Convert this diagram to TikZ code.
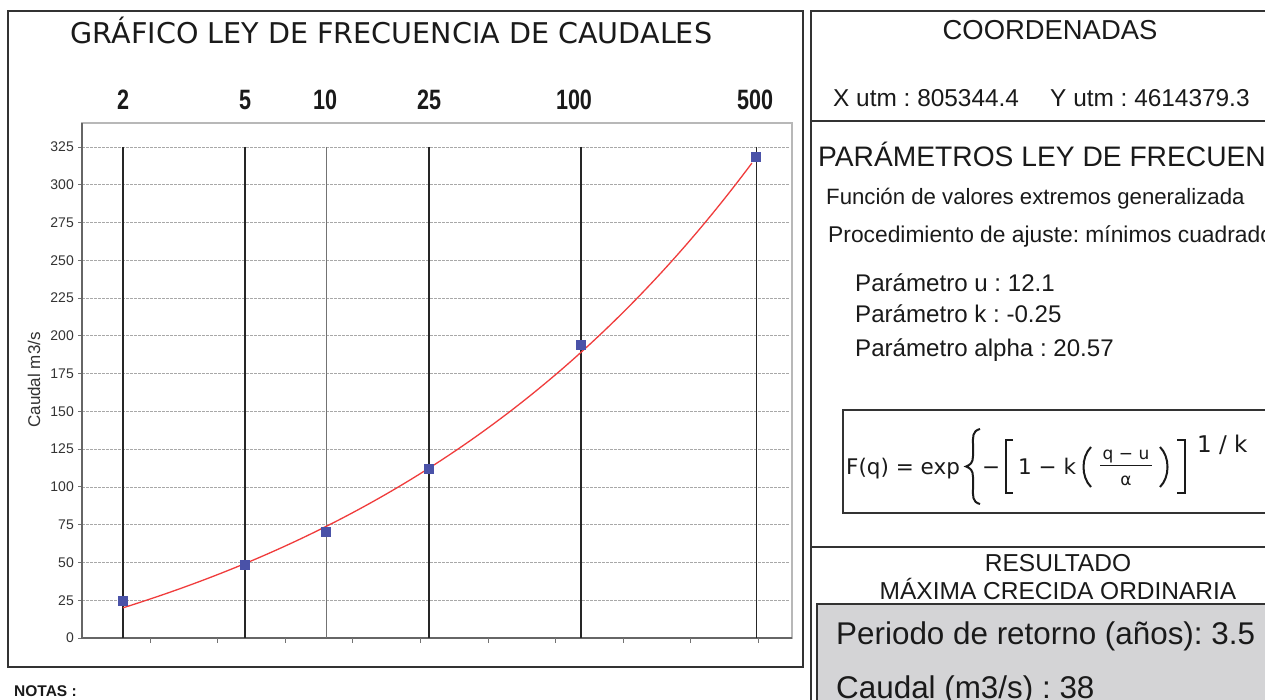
\documentclass[tikz,border=0pt]{standalone}
\usepackage{fontspec}
\usepackage{graphicx}
\setmainfont{Liberation Sans}
\newfontfamily\dvs{DejaVu Sans}
\definecolor{frm}{HTML}{333333}
\definecolor{plotfrm}{HTML}{B8B8B8}
\definecolor{gridc}{HTML}{A8A8A8}
\definecolor{ptblue}{HTML}{4A52A8}
\definecolor{curvered}{HTML}{F03C3C}
\definecolor{resbg}{HTML}{D4D4D6}
\definecolor{txt}{HTML}{1A1A1A}
\definecolor{ticktxt}{HTML}{333333}
\newcommand\fsz[1]{\fontsize{#1}{#1}\selectfont}
\newcommand\narrowlab[1]{\scalebox{0.77}[1]{#1}}
\frenchspacing
\begin{document}
\frenchspacing
\begin{tikzpicture}[x=1pt,y=-1pt,
  frame/.style={draw=frm, line width=1.6pt},
  plotframe/.style={draw=plotfrm, line width=1.2pt},
  gridline/.style={draw=gridc, line width=0.8pt, dash pattern=on 2.5pt off 1.5pt},
  tline/.style={draw=black!85, line width=1.4pt},
  tlinelight/.style={draw=black!55, line width=1pt},
  axtick/.style={draw=black!55, line width=0.9pt},
  curve/.style={draw=curvered, line width=1.3pt},
  datapt/.style={fill=ptblue, draw=none, minimum size=10pt, inner sep=0pt, rectangle},
  ylab/.style={anchor=east, inner sep=0pt, text=ticktxt, font=\fsz{14}},
  toplab/.style={anchor=base, inner sep=0pt, text=txt, font=\bfseries\fsz{28}},
  txtw/.style={anchor=base west, inner sep=0pt, text=txt},
  txtc/.style={anchor=base, inner sep=0pt, text=txt},
  fml/.style={inner sep=0pt, text=txt, font=\dvs\fsz{21.5}},
  delim/.style={draw=txt, line width=2pt, line cap=butt, line join=miter},
]
\useasboundingbox (0,0) rectangle (1265,700);
\clip (0,0) rectangle (1265,700);
\fill[white] (0,0) rectangle (1265,700);

% ---------- left chart frame ----------
\draw[frame] (8,11) rectangle (803,667);
\node[txtc, font=\dvs\fsz{28.6}] (title) at (391.5,43.5) {GRÁFICO LEY DE FRECUENCIA DE CAUDALES};

% plot area
\draw[plotframe] (82,123) rectangle (792,638);
\draw[draw=plotfrm, line width=2.5pt] (792,123) -- (792,639);
\foreach \v in {1,...,13}
  \draw[gridline] (82,{638-\v*37.77}) -- (790,{638-\v*37.77});
\foreach \v [evaluate=\v as \lab using int(\v*25)] in {0,...,13} {
  \draw[axtick] (78,{638-\v*37.77}) -- (82,{638-\v*37.77});
  \node[ylab] (yl\v) at (74,{638-\v*37.77}) {\lab};
}
\draw[draw=black!60, line width=1.2pt] (82,123) -- (82,638) -- (792,638);
\foreach \k in {0,...,9}
  \draw[axtick] ({150+67.6*\k},638) -- ++(0,5);

\node[rotate=90, inner sep=0pt, text=ticktxt, font=\fsz{17}] (yaxlab) at (34,380) {Caudal m3/s};

% return period lines
\draw[tline] (123,147) -- (123,638);
\draw[tline] (245,147) -- (245,638);
\draw[tlinelight] (326,147) -- (326,638);
\draw[tline] (429,147) -- (429,638);
\draw[tline] (581,147) -- (581,638);
\draw[tline] (756.5,147) -- (756.5,638);

\node[toplab] (t2) at (123,110) {\narrowlab{2}};
\node[toplab] (t5) at (245,110) {\narrowlab{5}};
\node[toplab] (t10) at (325,110) {\narrowlab{10}};
\node[toplab] (t25) at (429,110) {\narrowlab{25}};
\node[toplab] (t100) at (574,110) {\narrowlab{100}};
\node[toplab] (t500) at (755,110) {\narrowlab{500}};

% fitted GEV curve
\draw[curve] plot[domain=0.3665:6.169, samples=90, variable=\t, smooth]
  ({83.3+108.4*\t},{638-1.5108*(12.1+82.28*(exp(0.25*\t)-1))});

% data points
\node[datapt] (p1) at (123,600.5) {};
\node[datapt] (p2) at (245,564.5) {};
\node[datapt] (p3) at (326,532) {};
\node[datapt] (p4) at (429,468.5) {};
\node[datapt] (p5) at (581,344.5) {};
\node[datapt] (p6) at (756,157.5) {};

\node[txtw, font=\bfseries\fsz{15.5}] (notas) at (14,696) {NOTAS :};

% ---------- right panel ----------
\draw[frame] (1270,11) -- (811,11) -- (811,705);
\draw[frame] (811,121) -- (1270,121);
\draw[frame] (811,547) -- (1270,547);

\node[txtc, font=\fsz{27.4}] (coord) at (1050,40) {COORDENADAS};
\node[txtw, font=\fsz{24.4}] (xutm) at (833,107) {X utm : 805344.4};
\node[txtw, font=\fsz{24.4}] (yutm) at (1050,107) {Y utm : 4614379.3};

\node[txtw, font=\fsz{28.2}] (param) at (818,167) {PARÁMETROS LEY DE FRECUENCIA};
\node[txtw, font=\fsz{22.2}] (func) at (826,205) {Función de valores extremos generalizada};
\node[txtw, font=\fsz{22.8}] (proc) at (828,243) {Procedimiento de ajuste: mínimos cuadrados};
\node[txtw, font=\fsz{24.1}] (pu) at (855,291) {Parámetro u : 12.1};
\node[txtw, font=\fsz{24.1}] (pk) at (855,322) {Parámetro k : -0.25};
\node[txtw, font=\fsz{24.1}] (pa) at (855,356) {Parámetro alpha : 20.57};

% formula box
\draw[draw=frm, line width=1.5pt] (1270,410) -- (843,410) -- (843,513) -- (1270,513);
\node[fml, anchor=base west] (fq) at (846,474) {F(q) = exp};
\draw[delim] (980,429) .. controls (972,431) and (973,437) .. (973,445) -- (973,456)
  .. controls (973,463) and (970,465) .. (966,466.5)
  .. controls (970,468) and (973,470) .. (973,477) -- (973,488)
  .. controls (973,496) and (972,502) .. (980,504);
\node[fml, anchor=base west] (mn1) at (982,474) {−};
\draw[delim] (1013,440) -- (1006,440) -- (1006,493) -- (1013,493);
\node[fml, anchor=base west] (onek) at (1018,474) {1 − k};
\draw[delim] (1091,447) .. controls (1081,457) and (1081,477) .. (1091,487);
\node[fml, anchor=base, font=\dvs\fsz{17}] (num) at (1126,459) {q − u};
\draw[draw=txt, line width=1pt] (1100,465.5) -- (1152,465.5);
\node[fml, anchor=base, font=\dvs\fsz{17}] (den) at (1126,485) {α};
\draw[delim] (1160,447) .. controls (1170,457) and (1170,477) .. (1160,487);
\draw[delim] (1177,440) -- (1185,440) -- (1185,493) -- (1177,493);
\node[fml, anchor=base west, font=\dvs\fsz{23}] (expo) at (1197,452) {1 / k};

\node[txtc, font=\fsz{24.5}] (res1) at (1058,571) {RESULTADO};
\node[txtc, font=\fsz{24.5}] (res2) at (1058,599) {MÁXIMA CRECIDA ORDINARIA};

\fill[resbg] (817,604) rectangle (1270,705);
\draw[draw=frm, line width=2pt] (1270,604) -- (817,604) -- (817,705);
\node[txtw, font=\fsz{31.4}] (per) at (836,644) {Periodo de retorno (años): 3.5};
\node[txtw, font=\fsz{31.4}] (caud) at (836,698) {Caudal (m3/s) : 38};
\end{tikzpicture}
\end{document}
